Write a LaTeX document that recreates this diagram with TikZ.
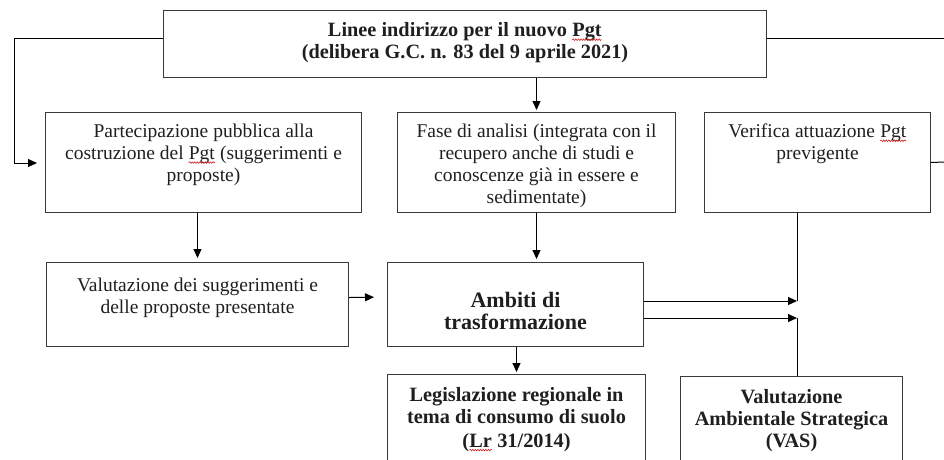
\documentclass[tikz,border=0pt]{standalone}
\usepackage{fontspec}
\setmainfont{Liberation Serif}
\usepackage{xcolor}
\usepackage{tikz}
\usetikzlibrary{arrows.meta,decorations.pathmorphing}
\definecolor{boxgray}{HTML}{3A3A3A}
\definecolor{spellred}{HTML}{D02020}
% sottolineatura ondulata rossa (correttore ortografico)
\newcommand{\spellerr}[1]{\tikz[baseline=(sw.base)]{\node[inner sep=0pt, outer sep=0pt, anchor=center] (sw) {#1};
    \draw[spellred, line width=0.6pt, decorate, decoration={snake, amplitude=0.8pt, segment length=2.6pt}]
        ([yshift=-2.8pt]sw.base west) -- ([yshift=-2.8pt]sw.base east);}}

\begin{document}
\begin{tikzpicture}[x=1pt, y=-1pt,
    box/.style={draw=boxgray, line width=1pt, anchor=north west, inner sep=0pt},
    txt/.style={align=center, inner sep=0pt, anchor=north, text=black!88, font=\fontsize{19.5}{22}\selectfont},
    btxt/.style={txt, font=\fontsize{20.3}{22}\selectfont\bfseries},
    freccia/.style={line width=1pt, -{Triangle[length=9pt, width=8pt]}},
    linea/.style={line width=1pt}]
    \useasboundingbox (0,0) rectangle (944,459);
    \clip (0,0) rectangle (944,459);

    % ========== Riga superiore: linee di indirizzo ==========
    \node[box, minimum width=603pt, minimum height=67pt] (linee) at (163,10) {};
    \node[btxt, anchor=center] (linee-t) at ([yshift=1pt]linee.center)
        {Linee indirizzo per il nuovo \spellerr{Pgt}\\(delibera G.C. n. 83 del 9 aprile 2021)};

    % ========== Seconda riga ==========
    % Partecipazione pubblica
    \node[box, minimum width=316pt, minimum height=100pt] (part) at (45,112) {};
    \node[txt] (part-t) at ([yshift=-12pt]part.north)
        {Partecipazione pubblica alla\\costruzione del \spellerr{Pgt} (suggerimenti e\\proposte)};

    % Fase di analisi
    \node[box, minimum width=278pt, minimum height=100pt] (fase) at (397,112) {};
    \node[txt] (fase-t) at ([yshift=-12pt]fase.north)
        {Fase di analisi (integrata con il\\recupero anche di studi e\\conoscenze già in essere e\\sedimentate)};

    % Verifica Pgt previgente
    \node[box, minimum width=226pt, minimum height=100pt] (verif) at (704,112) {};
    \node[txt] (verif-t) at ([yshift=-12pt]verif.north)
        {Verifica attuazione \spellerr{Pgt}\\previgente};

    % ========== Terza riga ==========
    \node[box, minimum width=302pt, minimum height=84pt] (valut) at (46,262) {};
    \node[txt] (valut-t) at ([yshift=-16pt]valut.north)
        {Valutazione dei suggerimenti e\\delle proposte presentate};

    \node[box, minimum width=256pt, minimum height=84pt] (ambiti) at (387,262) {};
    \node[txt, font=\fontsize{22}{22.5}\selectfont\bfseries] (ambiti-t) at ([yshift=-30pt]ambiti.north)
        {Ambiti di\\trasformazione};

    % ========== Riga inferiore (tagliata dal bordo) ==========
    \node[box, minimum width=258pt, minimum height=100pt] (legis) at (387,374) {};
    \node[btxt] (legis-t) at ([yshift=-13pt]legis.north)
        {Legislazione regionale in\\tema di consumo di suolo\\[2pt](\spellerr{Lr} 31/2014)};

    \node[box, minimum width=222pt, minimum height=100pt] (vas) at (680,376) {};
    \node[btxt] (vas-t) at ([yshift=-13pt]vas.north)
        {Valutazione\\Ambientale Strategica\\(VAS)};

    % Punti liberi sul bordo e nodi di confluenza
    \coordinate (bordo-sx) at (14,163);
    \coordinate (bordo-alto) at (944,38);
    \coordinate (bordo-verif) at (944,162);
    \coordinate (nodo-a) at (797,301);
    \coordinate (nodo-b) at (797,318);

    % ========== Collegamenti ==========
    % Linee -> partecipazione (giro a sinistra)
    \draw[freccia, shorten >=8pt] ([yshift=-28pt]linee.north west) -| (bordo-sx) -- (part.west |- bordo-sx);
    % Linee -> destra (oltre il bordo)
    \draw[linea] ([yshift=-28pt]linee.north east) -- (bordo-alto);
    \draw[linea] (verif.east) -- (bordo-verif);
    % Linee -> fase di analisi
    \draw[freccia, shorten >=2pt] (fase.north |- linee.south) -- (fase.north);
    % Partecipazione -> valutazione
    \draw[freccia, shorten >=4pt] (valut.north |- part.south) -- (valut.north);
    % Fase -> ambiti
    \draw[freccia, shorten >=3pt] (fase.south) -- (fase.south |- ambiti.north);
    % Valutazione -> ambiti
    \draw[freccia, shorten >=13pt] ([yshift=7pt]valut.east) -- (ambiti.west |- 0,297);
    % Ambiti -> legislazione
    \draw[freccia, shorten >=2pt] (legis.north |- ambiti.south) -- (legis.north);
    % Ambiti -> confluenza con verifica e VAS
    \draw[freccia] (ambiti.east |- nodo-a) -- (nodo-a);
    \draw[freccia] (ambiti.east |- nodo-b) -- (nodo-b);
    \draw[linea] (verif.south -| nodo-a) -- (nodo-a);
    \draw[linea] (vas.north -| nodo-b) -- (nodo-b);
\end{tikzpicture}
\end{document}
